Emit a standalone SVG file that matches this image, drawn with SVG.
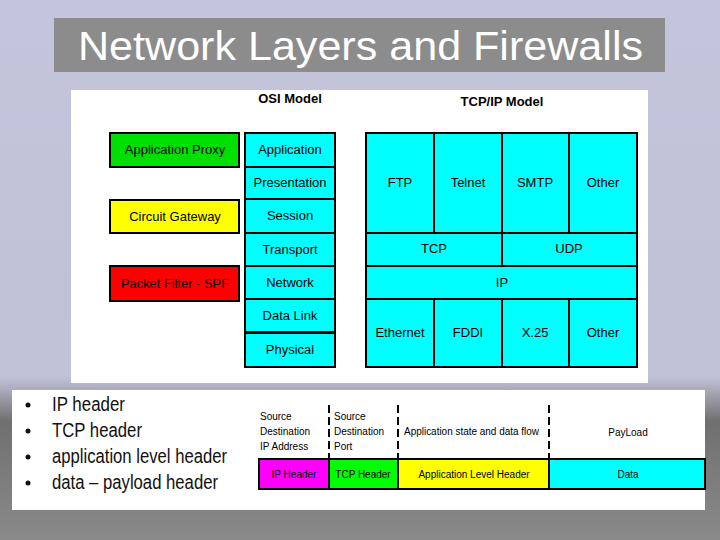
<svg xmlns="http://www.w3.org/2000/svg" width="720" height="540" viewBox="0 0 720 540">
<defs>
<linearGradient id="bg" x1="0" y1="0" x2="0" y2="1">
<stop offset="0" stop-color="#c4c4dc"/><stop offset="0.7" stop-color="#c0c0d6"/><stop offset="0.78" stop-color="#707070"/><stop offset="1" stop-color="#8a8a8a"/>
</linearGradient>
<style>
.b{stroke:#000;stroke-width:2}
.c{fill:#00ffff}
text{font-family:"Liberation Sans",Arial,sans-serif;fill:#000}
.t{font-size:13px;text-anchor:middle}
.s{font-size:10px}
.bl{font-size:20px;fill:#111}
</style>
</defs>
<rect width="720" height="540" fill="url(#bg)"/>
<rect x="54" y="18" width="611" height="54" fill="#8c8c8c"/>
<text x="78" y="60" font-size="40" textLength="565" lengthAdjust="spacingAndGlyphs" style="fill:#fff">Network Layers and Firewalls</text>
<rect x="71" y="90" width="577" height="293" fill="#fff"/>
<text x="290" y="103" font-size="13" font-weight="bold" text-anchor="middle">OSI Model</text>
<text x="502" y="106" font-size="13" font-weight="bold" text-anchor="middle">TCP/IP Model</text>
<g id="firewalls">
<rect class="b" x="110" y="133" width="129" height="34" fill="#00e000"/><text class="t" x="175" y="154">Application Proxy</text>
<rect class="b" x="110" y="200" width="129" height="33" fill="#ffff00"/><text class="t" x="175" y="221">Circuit Gateway</text>
<rect class="b" x="110" y="266" width="129" height="35" fill="#ff0000"/><text class="t" x="175" y="288" textLength="108" lengthAdjust="spacingAndGlyphs">Packet Filter - SPF</text>
</g>
<g id="osi">
<rect class="b c" x="245" y="133" width="90" height="34"/><text class="t" x="290" y="154">Application</text>
<rect class="b c" x="245" y="167" width="90" height="32"/><text class="t" x="290" y="187">Presentation</text>
<rect class="b c" x="245" y="199" width="90" height="34"/><text class="t" x="290" y="220">Session</text>
<rect class="b c" x="245" y="233" width="90" height="33"/><text class="t" x="290" y="254">Transport</text>
<rect class="b c" x="245" y="266" width="90" height="33"/><text class="t" x="290" y="287">Network</text>
<rect class="b c" x="245" y="299" width="90" height="33"/><text class="t" x="290" y="320">Data Link</text>
<rect class="b c" x="245" y="333" width="90" height="34"/><text class="t" x="290" y="354">Physical</text>
</g>
<g id="tcpip">
<rect class="b c" x="366" y="133" width="68" height="100"/><text class="t" x="400" y="187">FTP</text>
<rect class="b c" x="434" y="133" width="68" height="100"/><text class="t" x="468" y="187">Telnet</text>
<rect class="b c" x="502" y="133" width="67" height="100"/><text class="t" x="535" y="187">SMTP</text>
<rect class="b c" x="569" y="133" width="68" height="100"/><text class="t" x="603" y="187">Other</text>
<rect class="b c" x="366" y="233" width="136" height="33"/><text class="t" x="434" y="253">TCP</text>
<rect class="b c" x="502" y="233" width="135" height="33"/><text class="t" x="569" y="253">UDP</text>
<rect class="b c" x="366" y="266" width="271" height="33"/><text class="t" x="502" y="287">IP</text>
<rect class="b c" x="366" y="299" width="68" height="68"/><text class="t" x="400" y="337">Ethernet</text>
<rect class="b c" x="434" y="299" width="68" height="68"/><text class="t" x="468" y="337">FDDI</text>
<rect class="b c" x="502" y="299" width="67" height="68"/><text class="t" x="535" y="337">X.25</text>
<rect class="b c" x="569" y="299" width="68" height="68"/><text class="t" x="603" y="337">Other</text>
</g>
<rect x="12" y="390" width="693" height="120" fill="#fff"/>
<g id="bullets">
<circle cx="28" cy="405" r="2.5" fill="#111"/><text class="bl" x="52" y="411" textLength="73" lengthAdjust="spacingAndGlyphs">IP header</text>
<circle cx="28" cy="431" r="2.5" fill="#111"/><text class="bl" x="52" y="437" textLength="90" lengthAdjust="spacingAndGlyphs">TCP header</text>
<circle cx="28" cy="457" r="2.5" fill="#111"/><text class="bl" x="52" y="463" textLength="175" lengthAdjust="spacingAndGlyphs">application level header</text>
<circle cx="28" cy="483" r="2.5" fill="#111"/><text class="bl" x="52" y="489" textLength="166" lengthAdjust="spacingAndGlyphs">data – payload header</text>
</g>
<g id="labels">
<text class="s" x="260" y="420">Source</text><text class="s" x="260" y="435">Destination</text><text class="s" x="260" y="450">IP Address</text>
<text class="s" x="334" y="420">Source</text><text class="s" x="334" y="435">Destination</text><text class="s" x="334" y="450">Port</text>
<text class="s" x="404" y="435" textLength="135" lengthAdjust="spacingAndGlyphs">Application state and data flow</text>
<text class="s" x="628" y="436" text-anchor="middle">PayLoad</text>
</g>
<g id="connectors" stroke="#000" stroke-width="2" stroke-dasharray="8,4">
<line x1="329" y1="405" x2="329" y2="459"/>
<line x1="398" y1="405" x2="398" y2="459"/>
<line x1="549" y1="405" x2="549" y2="459"/>
</g>
<g id="packet">
<rect class="b" x="259" y="459" width="70" height="30" fill="#ff00ff"/><text class="s" x="294" y="478" text-anchor="middle">IP Header</text>
<rect class="b" x="329" y="459" width="69" height="30" fill="#00ff00"/><text class="s" x="363" y="478" text-anchor="middle">TCP Header</text>
<rect class="b" x="398" y="459" width="151" height="30" fill="#ffff00"/><text class="s" x="474" y="478" text-anchor="middle">Application Level Header</text>
<rect class="b" x="549" y="459" width="156" height="30" fill="#00ffff"/><text class="s" x="628" y="478" text-anchor="middle">Data</text>
</g>
</svg>
